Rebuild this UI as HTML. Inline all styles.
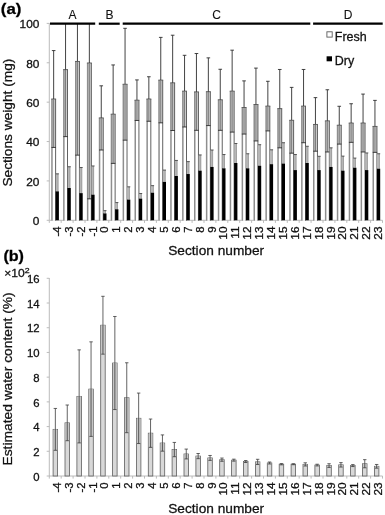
<!DOCTYPE html>
<html><head><meta charset="utf-8"><title>Figure</title>
<style>html,body{margin:0;padding:0;background:#fff}svg{display:block}</style>
</head><body>
<svg width="385" height="515" viewBox="0 0 385 515" font-family="'Liberation Sans', Arial, Helvetica, sans-serif" fill="#111">
<style>text{stroke:#111;stroke-width:0.28px;paint-order:stroke}</style>
<rect width="385" height="515" fill="#fff"/>
<g stroke="#b4b4b4" stroke-width="0.9" fill="none">
<path d="M49.3 23.099999999999998V220.3H382.5"/>
<path d="M46.699999999999996 220.30H49.3M46.699999999999996 180.92H49.3M46.699999999999996 141.54H49.3M46.699999999999996 102.16H49.3M46.699999999999996 62.78H49.3M46.699999999999996 23.40H49.3M49.30 220.3V222.9M61.20 220.3V222.9M73.10 220.3V222.9M85.00 220.3V222.9M96.90 220.3V222.9M108.80 220.3V222.9M120.70 220.3V222.9M132.60 220.3V222.9M144.50 220.3V222.9M156.40 220.3V222.9M168.30 220.3V222.9M180.20 220.3V222.9M192.10 220.3V222.9M204.00 220.3V222.9M215.90 220.3V222.9M227.80 220.3V222.9M239.70 220.3V222.9M251.60 220.3V222.9M263.50 220.3V222.9M275.40 220.3V222.9M287.30 220.3V222.9M299.20 220.3V222.9M311.10 220.3V222.9M323.00 220.3V222.9M334.90 220.3V222.9M346.80 220.3V222.9M358.70 220.3V222.9M370.60 220.3V222.9M382.50 220.3V222.9"/>
</g>
<clipPath id="ca"><rect x="40" y="23.4" width="345" height="197.35"/></clipPath>
<g clip-path="url(#ca)">
<rect x="51.20" y="99.01" width="4.90" height="123.29" fill="#fff"/>
<rect x="51.50" y="99.01" width="4.30" height="48.44" fill="#cfcfcf"/>
<rect x="51.20" y="99.01" width="1.5" height="123.29" fill="#8e8e8e"/>
<rect x="55.15" y="99.01" width="0.95" height="123.29" fill="#5a5a5a"/>
<rect x="51.20" y="98.56" width="4.90" height="0.9" fill="#555"/>
<path d="M53.65 99.01V147.45" stroke="#7a7a7a" stroke-width="1" fill="none"/>
<path d="M53.65 50.57V99.01M51.85 50.57h3.6M51.40 147.45H55.90" stroke="#2e2e2e" stroke-width="0.9" fill="none"/>
<rect x="55.90" y="173.83" width="2.40" height="17.52" fill="#b6b6b6"/>
<rect x="57.80" y="173.83" width="0.6" height="17.52" fill="#8c8c8c"/>
<path d="M55.90 173.83H58.90" stroke="#333" stroke-width="0.8" fill="none"/>
<rect x="55.60" y="191.36" width="3.30" height="28.94" fill="#000"/>
<rect x="63.10" y="69.67" width="4.90" height="152.63" fill="#fff"/>
<rect x="63.40" y="69.67" width="4.30" height="66.95" fill="#cfcfcf"/>
<rect x="63.10" y="69.67" width="1.5" height="152.63" fill="#8e8e8e"/>
<rect x="67.05" y="69.67" width="0.95" height="152.63" fill="#5a5a5a"/>
<rect x="63.10" y="69.22" width="4.90" height="0.9" fill="#555"/>
<path d="M65.55 69.67V136.62" stroke="#7a7a7a" stroke-width="1" fill="none"/>
<path d="M65.55 2.73V69.67M63.75 2.73h3.6M63.30 136.62H67.80" stroke="#2e2e2e" stroke-width="0.9" fill="none"/>
<rect x="67.80" y="166.74" width="2.40" height="21.27" fill="#b6b6b6"/>
<rect x="69.70" y="166.74" width="0.6" height="21.27" fill="#8c8c8c"/>
<path d="M67.80 166.74H70.80" stroke="#333" stroke-width="0.8" fill="none"/>
<rect x="67.50" y="188.01" width="3.30" height="32.29" fill="#000"/>
<rect x="75.00" y="61.40" width="4.90" height="160.90" fill="#fff"/>
<rect x="75.30" y="61.40" width="4.30" height="93.72" fill="#cfcfcf"/>
<rect x="75.00" y="61.40" width="1.5" height="160.90" fill="#8e8e8e"/>
<rect x="78.95" y="61.40" width="0.95" height="160.90" fill="#5a5a5a"/>
<rect x="75.00" y="60.95" width="4.90" height="0.9" fill="#555"/>
<path d="M77.45 61.40V155.13" stroke="#7a7a7a" stroke-width="1" fill="none"/>
<path d="M77.45 -32.32V61.40M75.65 -32.32h3.6M75.20 155.13H79.70" stroke="#2e2e2e" stroke-width="0.9" fill="none"/>
<rect x="79.70" y="167.53" width="2.40" height="25.60" fill="#b6b6b6"/>
<rect x="81.60" y="167.53" width="0.6" height="25.60" fill="#8c8c8c"/>
<path d="M79.70 167.53H82.70" stroke="#333" stroke-width="0.8" fill="none"/>
<rect x="79.40" y="193.13" width="3.30" height="27.17" fill="#000"/>
<rect x="86.90" y="62.98" width="4.90" height="159.32" fill="#fff"/>
<rect x="87.20" y="62.98" width="4.30" height="135.86" fill="#cfcfcf"/>
<rect x="86.90" y="62.98" width="1.5" height="159.32" fill="#8e8e8e"/>
<rect x="90.85" y="62.98" width="0.95" height="159.32" fill="#5a5a5a"/>
<rect x="86.90" y="62.53" width="4.90" height="0.9" fill="#555"/>
<path d="M89.35 62.98V198.84" stroke="#7a7a7a" stroke-width="1" fill="none"/>
<path d="M89.35 -72.88V62.98M87.55 -72.88h3.6M87.10 198.84H91.60" stroke="#2e2e2e" stroke-width="0.9" fill="none"/>
<rect x="91.60" y="165.96" width="2.40" height="28.75" fill="#b6b6b6"/>
<rect x="93.50" y="165.96" width="0.6" height="28.75" fill="#8c8c8c"/>
<path d="M91.60 165.96H94.60" stroke="#333" stroke-width="0.8" fill="none"/>
<rect x="91.30" y="194.70" width="3.30" height="25.60" fill="#000"/>
<rect x="98.80" y="117.91" width="4.90" height="104.39" fill="#fff"/>
<rect x="99.10" y="117.91" width="4.30" height="32.09" fill="#cfcfcf"/>
<rect x="98.80" y="117.91" width="1.5" height="104.39" fill="#8e8e8e"/>
<rect x="102.75" y="117.91" width="0.95" height="104.39" fill="#5a5a5a"/>
<rect x="98.80" y="117.46" width="4.90" height="0.9" fill="#555"/>
<path d="M101.25 117.91V150.01" stroke="#7a7a7a" stroke-width="1" fill="none"/>
<path d="M101.25 85.82V117.91M99.45 85.82h3.6M99.00 150.01H103.50" stroke="#2e2e2e" stroke-width="0.9" fill="none"/>
<rect x="103.50" y="210.65" width="2.40" height="2.76" fill="#b6b6b6"/>
<rect x="105.40" y="210.65" width="0.6" height="2.76" fill="#8c8c8c"/>
<path d="M103.50 210.65H106.50" stroke="#333" stroke-width="0.8" fill="none"/>
<rect x="103.20" y="213.41" width="3.30" height="6.89" fill="#000"/>
<rect x="110.70" y="114.17" width="4.90" height="108.13" fill="#fff"/>
<rect x="111.00" y="114.17" width="4.30" height="49.22" fill="#cfcfcf"/>
<rect x="110.70" y="114.17" width="1.5" height="108.13" fill="#8e8e8e"/>
<rect x="114.65" y="114.17" width="0.95" height="108.13" fill="#5a5a5a"/>
<rect x="110.70" y="113.72" width="4.90" height="0.9" fill="#555"/>
<path d="M113.15 114.17V163.40" stroke="#7a7a7a" stroke-width="1" fill="none"/>
<path d="M113.15 64.95V114.17M111.35 64.95h3.6M110.90 163.40H115.40" stroke="#2e2e2e" stroke-width="0.9" fill="none"/>
<rect x="115.40" y="202.58" width="2.40" height="6.69" fill="#b6b6b6"/>
<rect x="117.30" y="202.58" width="0.6" height="6.69" fill="#8c8c8c"/>
<path d="M115.40 202.58H118.40" stroke="#333" stroke-width="0.8" fill="none"/>
<rect x="115.10" y="209.27" width="3.30" height="11.03" fill="#000"/>
<rect x="122.60" y="84.24" width="4.90" height="138.06" fill="#fff"/>
<rect x="122.90" y="84.24" width="4.30" height="55.92" fill="#cfcfcf"/>
<rect x="122.60" y="84.24" width="1.5" height="138.06" fill="#8e8e8e"/>
<rect x="126.55" y="84.24" width="0.95" height="138.06" fill="#5a5a5a"/>
<rect x="122.60" y="83.79" width="4.90" height="0.9" fill="#555"/>
<path d="M125.05 84.24V140.16" stroke="#7a7a7a" stroke-width="1" fill="none"/>
<path d="M125.05 28.32V84.24M123.25 28.32h3.6M122.80 140.16H127.30" stroke="#2e2e2e" stroke-width="0.9" fill="none"/>
<rect x="127.30" y="186.83" width="2.40" height="12.80" fill="#b6b6b6"/>
<rect x="129.20" y="186.83" width="0.6" height="12.80" fill="#8c8c8c"/>
<path d="M127.30 186.83H130.30" stroke="#333" stroke-width="0.8" fill="none"/>
<rect x="127.00" y="199.63" width="3.30" height="20.67" fill="#000"/>
<rect x="134.50" y="100.19" width="4.90" height="122.11" fill="#fff"/>
<rect x="134.80" y="100.19" width="4.30" height="20.28" fill="#cfcfcf"/>
<rect x="134.50" y="100.19" width="1.5" height="122.11" fill="#8e8e8e"/>
<rect x="138.45" y="100.19" width="0.95" height="122.11" fill="#5a5a5a"/>
<rect x="134.50" y="99.74" width="4.90" height="0.9" fill="#555"/>
<path d="M136.95 100.19V120.47" stroke="#7a7a7a" stroke-width="1" fill="none"/>
<path d="M136.95 79.91V100.19M135.15 79.91h3.6M134.70 120.47H139.20" stroke="#2e2e2e" stroke-width="0.9" fill="none"/>
<rect x="139.20" y="193.52" width="2.40" height="5.12" fill="#b6b6b6"/>
<rect x="141.10" y="193.52" width="0.6" height="5.12" fill="#8c8c8c"/>
<path d="M139.20 193.52H142.20" stroke="#333" stroke-width="0.8" fill="none"/>
<rect x="138.90" y="198.64" width="3.30" height="21.66" fill="#000"/>
<rect x="146.40" y="99.01" width="4.90" height="123.29" fill="#fff"/>
<rect x="146.70" y="99.01" width="4.30" height="22.25" fill="#cfcfcf"/>
<rect x="146.40" y="99.01" width="1.5" height="123.29" fill="#8e8e8e"/>
<rect x="150.35" y="99.01" width="0.95" height="123.29" fill="#5a5a5a"/>
<rect x="146.40" y="98.56" width="4.90" height="0.9" fill="#555"/>
<path d="M148.85 99.01V121.26" stroke="#7a7a7a" stroke-width="1" fill="none"/>
<path d="M148.85 76.76V99.01M147.05 76.76h3.6M146.60 121.26H151.10" stroke="#2e2e2e" stroke-width="0.9" fill="none"/>
<rect x="151.10" y="185.65" width="2.40" height="7.09" fill="#b6b6b6"/>
<rect x="153.00" y="185.65" width="0.6" height="7.09" fill="#8c8c8c"/>
<path d="M151.10 185.65H154.10" stroke="#333" stroke-width="0.8" fill="none"/>
<rect x="150.80" y="192.73" width="3.30" height="27.57" fill="#000"/>
<rect x="158.30" y="80.11" width="4.90" height="142.19" fill="#fff"/>
<rect x="158.60" y="80.11" width="4.30" height="42.73" fill="#cfcfcf"/>
<rect x="158.30" y="80.11" width="1.5" height="142.19" fill="#8e8e8e"/>
<rect x="162.25" y="80.11" width="0.95" height="142.19" fill="#5a5a5a"/>
<rect x="158.30" y="79.66" width="4.90" height="0.9" fill="#555"/>
<path d="M160.75 80.11V122.83" stroke="#7a7a7a" stroke-width="1" fill="none"/>
<path d="M160.75 37.38V80.11M158.95 37.38h3.6M158.50 122.83H163.00" stroke="#2e2e2e" stroke-width="0.9" fill="none"/>
<rect x="163.00" y="170.09" width="2.40" height="11.81" fill="#b6b6b6"/>
<rect x="164.90" y="170.09" width="0.6" height="11.81" fill="#8c8c8c"/>
<path d="M163.00 170.09H166.00" stroke="#333" stroke-width="0.8" fill="none"/>
<rect x="162.70" y="181.90" width="3.30" height="38.40" fill="#000"/>
<rect x="170.20" y="82.86" width="4.90" height="139.44" fill="#fff"/>
<rect x="170.50" y="82.86" width="4.30" height="47.65" fill="#cfcfcf"/>
<rect x="170.20" y="82.86" width="1.5" height="139.44" fill="#8e8e8e"/>
<rect x="174.15" y="82.86" width="0.95" height="139.44" fill="#5a5a5a"/>
<rect x="170.20" y="82.41" width="4.90" height="0.9" fill="#555"/>
<path d="M172.65 82.86V130.51" stroke="#7a7a7a" stroke-width="1" fill="none"/>
<path d="M172.65 35.21V82.86M170.85 35.21h3.6M170.40 130.51H174.90" stroke="#2e2e2e" stroke-width="0.9" fill="none"/>
<rect x="174.90" y="160.44" width="2.40" height="15.56" fill="#b6b6b6"/>
<rect x="176.80" y="160.44" width="0.6" height="15.56" fill="#8c8c8c"/>
<path d="M174.90 160.44H177.90" stroke="#333" stroke-width="0.8" fill="none"/>
<rect x="174.60" y="176.00" width="3.30" height="44.30" fill="#000"/>
<rect x="182.10" y="91.13" width="4.90" height="131.17" fill="#fff"/>
<rect x="182.40" y="91.13" width="4.30" height="35.84" fill="#cfcfcf"/>
<rect x="182.10" y="91.13" width="1.5" height="131.17" fill="#8e8e8e"/>
<rect x="186.05" y="91.13" width="0.95" height="131.17" fill="#5a5a5a"/>
<rect x="182.10" y="90.68" width="4.90" height="0.9" fill="#555"/>
<path d="M184.55 91.13V126.97" stroke="#7a7a7a" stroke-width="1" fill="none"/>
<path d="M184.55 55.30V91.13M182.75 55.30h3.6M182.30 126.97H186.80" stroke="#2e2e2e" stroke-width="0.9" fill="none"/>
<rect x="186.80" y="161.62" width="2.40" height="12.40" fill="#b6b6b6"/>
<rect x="188.70" y="161.62" width="0.6" height="12.40" fill="#8c8c8c"/>
<path d="M186.80 161.62H189.80" stroke="#333" stroke-width="0.8" fill="none"/>
<rect x="186.50" y="174.03" width="3.30" height="46.27" fill="#000"/>
<rect x="194.00" y="91.92" width="4.90" height="130.38" fill="#fff"/>
<rect x="194.30" y="91.92" width="4.30" height="38.40" fill="#cfcfcf"/>
<rect x="194.00" y="91.92" width="1.5" height="130.38" fill="#8e8e8e"/>
<rect x="197.95" y="91.92" width="0.95" height="130.38" fill="#5a5a5a"/>
<rect x="194.00" y="91.47" width="4.90" height="0.9" fill="#555"/>
<path d="M196.45 91.92V130.32" stroke="#7a7a7a" stroke-width="1" fill="none"/>
<path d="M196.45 53.53V91.92M194.65 53.53h3.6M194.20 130.32H198.70" stroke="#2e2e2e" stroke-width="0.9" fill="none"/>
<rect x="198.70" y="154.93" width="2.40" height="15.75" fill="#b6b6b6"/>
<rect x="200.60" y="154.93" width="0.6" height="15.75" fill="#8c8c8c"/>
<path d="M198.70 154.93H201.70" stroke="#333" stroke-width="0.8" fill="none"/>
<rect x="198.40" y="170.68" width="3.30" height="49.62" fill="#000"/>
<rect x="205.90" y="91.72" width="4.90" height="130.58" fill="#fff"/>
<rect x="206.20" y="91.72" width="4.30" height="33.87" fill="#cfcfcf"/>
<rect x="205.90" y="91.72" width="1.5" height="130.58" fill="#8e8e8e"/>
<rect x="209.85" y="91.72" width="0.95" height="130.58" fill="#5a5a5a"/>
<rect x="205.90" y="91.27" width="4.90" height="0.9" fill="#555"/>
<path d="M208.35 91.72V125.59" stroke="#7a7a7a" stroke-width="1" fill="none"/>
<path d="M208.35 57.86V91.72M206.55 57.86h3.6M206.10 125.59H210.60" stroke="#2e2e2e" stroke-width="0.9" fill="none"/>
<rect x="210.60" y="150.01" width="2.40" height="16.93" fill="#b6b6b6"/>
<rect x="212.50" y="150.01" width="0.6" height="16.93" fill="#8c8c8c"/>
<path d="M210.60 150.01H213.60" stroke="#333" stroke-width="0.8" fill="none"/>
<rect x="210.30" y="166.94" width="3.30" height="53.36" fill="#000"/>
<rect x="217.80" y="99.80" width="4.90" height="122.50" fill="#fff"/>
<rect x="218.10" y="99.80" width="4.30" height="30.52" fill="#cfcfcf"/>
<rect x="217.80" y="99.80" width="1.5" height="122.50" fill="#8e8e8e"/>
<rect x="221.75" y="99.80" width="0.95" height="122.50" fill="#5a5a5a"/>
<rect x="217.80" y="99.35" width="4.90" height="0.9" fill="#555"/>
<path d="M220.25 99.80V130.32" stroke="#7a7a7a" stroke-width="1" fill="none"/>
<path d="M220.25 69.28V99.80M218.45 69.28h3.6M218.00 130.32H222.50" stroke="#2e2e2e" stroke-width="0.9" fill="none"/>
<rect x="222.50" y="154.54" width="2.40" height="13.78" fill="#b6b6b6"/>
<rect x="224.40" y="154.54" width="0.6" height="13.78" fill="#8c8c8c"/>
<path d="M222.50 154.54H225.50" stroke="#333" stroke-width="0.8" fill="none"/>
<rect x="222.20" y="168.32" width="3.30" height="51.98" fill="#000"/>
<rect x="229.70" y="91.13" width="4.90" height="131.17" fill="#fff"/>
<rect x="230.00" y="91.13" width="4.30" height="40.96" fill="#cfcfcf"/>
<rect x="229.70" y="91.13" width="1.5" height="131.17" fill="#8e8e8e"/>
<rect x="233.65" y="91.13" width="0.95" height="131.17" fill="#5a5a5a"/>
<rect x="229.70" y="90.68" width="4.90" height="0.9" fill="#555"/>
<path d="M232.15 91.13V132.09" stroke="#7a7a7a" stroke-width="1" fill="none"/>
<path d="M232.15 50.18V91.13M230.35 50.18h3.6M229.90 132.09H234.40" stroke="#2e2e2e" stroke-width="0.9" fill="none"/>
<rect x="234.40" y="143.51" width="2.40" height="19.49" fill="#b6b6b6"/>
<rect x="236.30" y="143.51" width="0.6" height="19.49" fill="#8c8c8c"/>
<path d="M234.40 143.51H237.40" stroke="#333" stroke-width="0.8" fill="none"/>
<rect x="234.10" y="163.00" width="3.30" height="57.30" fill="#000"/>
<rect x="241.60" y="107.48" width="4.90" height="114.82" fill="#fff"/>
<rect x="241.90" y="107.48" width="4.30" height="26.58" fill="#cfcfcf"/>
<rect x="241.60" y="107.48" width="1.5" height="114.82" fill="#8e8e8e"/>
<rect x="245.55" y="107.48" width="0.95" height="114.82" fill="#5a5a5a"/>
<rect x="241.60" y="107.03" width="4.90" height="0.9" fill="#555"/>
<path d="M244.05 107.48V134.06" stroke="#7a7a7a" stroke-width="1" fill="none"/>
<path d="M244.05 80.89V107.48M242.25 80.89h3.6M241.80 134.06H246.30" stroke="#2e2e2e" stroke-width="0.9" fill="none"/>
<rect x="246.30" y="153.75" width="2.40" height="14.57" fill="#b6b6b6"/>
<rect x="248.20" y="153.75" width="0.6" height="14.57" fill="#8c8c8c"/>
<path d="M246.30 153.75H249.30" stroke="#333" stroke-width="0.8" fill="none"/>
<rect x="246.00" y="168.32" width="3.30" height="51.98" fill="#000"/>
<rect x="253.50" y="104.52" width="4.90" height="117.78" fill="#fff"/>
<rect x="253.80" y="104.52" width="4.30" height="36.43" fill="#cfcfcf"/>
<rect x="253.50" y="104.52" width="1.5" height="117.78" fill="#8e8e8e"/>
<rect x="257.45" y="104.52" width="0.95" height="117.78" fill="#5a5a5a"/>
<rect x="253.50" y="104.07" width="4.90" height="0.9" fill="#555"/>
<path d="M255.95 104.52V140.95" stroke="#7a7a7a" stroke-width="1" fill="none"/>
<path d="M255.95 68.10V104.52M254.15 68.10h3.6M253.70 140.95H258.20" stroke="#2e2e2e" stroke-width="0.9" fill="none"/>
<rect x="258.20" y="144.69" width="2.40" height="21.07" fill="#b6b6b6"/>
<rect x="260.10" y="144.69" width="0.6" height="21.07" fill="#8c8c8c"/>
<path d="M258.20 144.69H261.20" stroke="#333" stroke-width="0.8" fill="none"/>
<rect x="257.90" y="165.76" width="3.30" height="54.54" fill="#000"/>
<rect x="265.40" y="106.10" width="4.90" height="116.20" fill="#fff"/>
<rect x="265.70" y="106.10" width="4.30" height="24.81" fill="#cfcfcf"/>
<rect x="265.40" y="106.10" width="1.5" height="116.20" fill="#8e8e8e"/>
<rect x="269.35" y="106.10" width="0.95" height="116.20" fill="#5a5a5a"/>
<rect x="265.40" y="105.65" width="4.90" height="0.9" fill="#555"/>
<path d="M267.85 106.10V130.91" stroke="#7a7a7a" stroke-width="1" fill="none"/>
<path d="M267.85 81.29V106.10M266.05 81.29h3.6M265.60 130.91H270.10" stroke="#2e2e2e" stroke-width="0.9" fill="none"/>
<rect x="270.10" y="149.81" width="2.40" height="14.37" fill="#b6b6b6"/>
<rect x="272.00" y="149.81" width="0.6" height="14.37" fill="#8c8c8c"/>
<path d="M270.10 149.81H273.10" stroke="#333" stroke-width="0.8" fill="none"/>
<rect x="269.80" y="164.18" width="3.30" height="56.12" fill="#000"/>
<rect x="277.30" y="108.66" width="4.90" height="113.64" fill="#fff"/>
<rect x="277.60" y="108.66" width="4.30" height="39.18" fill="#cfcfcf"/>
<rect x="277.30" y="108.66" width="1.5" height="113.64" fill="#8e8e8e"/>
<rect x="281.25" y="108.66" width="0.95" height="113.64" fill="#5a5a5a"/>
<rect x="277.30" y="108.21" width="4.90" height="0.9" fill="#555"/>
<path d="M279.75 108.66V147.84" stroke="#7a7a7a" stroke-width="1" fill="none"/>
<path d="M279.75 69.47V108.66M277.95 69.47h3.6M277.50 147.84H282.00" stroke="#2e2e2e" stroke-width="0.9" fill="none"/>
<rect x="282.00" y="142.72" width="2.40" height="20.87" fill="#b6b6b6"/>
<rect x="283.90" y="142.72" width="0.6" height="20.87" fill="#8c8c8c"/>
<path d="M282.00 142.72H285.00" stroke="#333" stroke-width="0.8" fill="none"/>
<rect x="281.70" y="163.59" width="3.30" height="56.71" fill="#000"/>
<rect x="289.20" y="120.27" width="4.90" height="102.03" fill="#fff"/>
<rect x="289.50" y="120.27" width="4.30" height="32.88" fill="#cfcfcf"/>
<rect x="289.20" y="120.27" width="1.5" height="102.03" fill="#8e8e8e"/>
<rect x="293.15" y="120.27" width="0.95" height="102.03" fill="#5a5a5a"/>
<rect x="289.20" y="119.82" width="4.90" height="0.9" fill="#555"/>
<path d="M291.65 120.27V153.16" stroke="#7a7a7a" stroke-width="1" fill="none"/>
<path d="M291.65 87.39V120.27M289.85 87.39h3.6M289.40 153.16H293.90" stroke="#2e2e2e" stroke-width="0.9" fill="none"/>
<rect x="293.90" y="154.54" width="2.40" height="15.56" fill="#b6b6b6"/>
<rect x="295.80" y="154.54" width="0.6" height="15.56" fill="#8c8c8c"/>
<path d="M293.90 154.54H296.90" stroke="#333" stroke-width="0.8" fill="none"/>
<rect x="293.60" y="170.09" width="3.30" height="50.21" fill="#000"/>
<rect x="301.10" y="106.10" width="4.90" height="116.20" fill="#fff"/>
<rect x="301.40" y="106.10" width="4.30" height="36.62" fill="#cfcfcf"/>
<rect x="301.10" y="106.10" width="1.5" height="116.20" fill="#8e8e8e"/>
<rect x="305.05" y="106.10" width="0.95" height="116.20" fill="#5a5a5a"/>
<rect x="301.10" y="105.65" width="4.90" height="0.9" fill="#555"/>
<path d="M303.55 106.10V142.72" stroke="#7a7a7a" stroke-width="1" fill="none"/>
<path d="M303.55 69.47V106.10M301.75 69.47h3.6M301.30 142.72H305.80" stroke="#2e2e2e" stroke-width="0.9" fill="none"/>
<rect x="305.80" y="146.27" width="2.40" height="16.74" fill="#b6b6b6"/>
<rect x="307.70" y="146.27" width="0.6" height="16.74" fill="#8c8c8c"/>
<path d="M305.80 146.27H308.80" stroke="#333" stroke-width="0.8" fill="none"/>
<rect x="305.50" y="163.00" width="3.30" height="57.30" fill="#000"/>
<rect x="313.00" y="124.41" width="4.90" height="97.89" fill="#fff"/>
<rect x="313.30" y="124.41" width="4.30" height="26.78" fill="#cfcfcf"/>
<rect x="313.00" y="124.41" width="1.5" height="97.89" fill="#8e8e8e"/>
<rect x="316.95" y="124.41" width="0.95" height="97.89" fill="#5a5a5a"/>
<rect x="313.00" y="123.96" width="4.90" height="0.9" fill="#555"/>
<path d="M315.45 124.41V151.19" stroke="#7a7a7a" stroke-width="1" fill="none"/>
<path d="M315.45 97.63V124.41M313.65 97.63h3.6M313.20 151.19H317.70" stroke="#2e2e2e" stroke-width="0.9" fill="none"/>
<rect x="317.70" y="156.31" width="2.40" height="13.78" fill="#b6b6b6"/>
<rect x="319.60" y="156.31" width="0.6" height="13.78" fill="#8c8c8c"/>
<path d="M317.70 156.31H320.70" stroke="#333" stroke-width="0.8" fill="none"/>
<rect x="317.40" y="170.09" width="3.30" height="50.21" fill="#000"/>
<rect x="324.90" y="120.87" width="4.90" height="101.43" fill="#fff"/>
<rect x="325.20" y="120.87" width="4.30" height="31.11" fill="#cfcfcf"/>
<rect x="324.90" y="120.87" width="1.5" height="101.43" fill="#8e8e8e"/>
<rect x="328.85" y="120.87" width="0.95" height="101.43" fill="#5a5a5a"/>
<rect x="324.90" y="120.42" width="4.90" height="0.9" fill="#555"/>
<path d="M327.35 120.87V151.98" stroke="#7a7a7a" stroke-width="1" fill="none"/>
<path d="M327.35 89.76V120.87M325.55 89.76h3.6M325.10 151.98H329.60" stroke="#2e2e2e" stroke-width="0.9" fill="none"/>
<rect x="329.60" y="147.84" width="2.40" height="19.10" fill="#b6b6b6"/>
<rect x="331.50" y="147.84" width="0.6" height="19.10" fill="#8c8c8c"/>
<path d="M329.60 147.84H332.60" stroke="#333" stroke-width="0.8" fill="none"/>
<rect x="329.30" y="166.94" width="3.30" height="53.36" fill="#000"/>
<rect x="336.80" y="125.20" width="4.90" height="97.10" fill="#fff"/>
<rect x="337.10" y="125.20" width="4.30" height="18.90" fill="#cfcfcf"/>
<rect x="336.80" y="125.20" width="1.5" height="97.10" fill="#8e8e8e"/>
<rect x="340.75" y="125.20" width="0.95" height="97.10" fill="#5a5a5a"/>
<rect x="336.80" y="124.75" width="4.90" height="0.9" fill="#555"/>
<path d="M339.25 125.20V144.10" stroke="#7a7a7a" stroke-width="1" fill="none"/>
<path d="M339.25 106.29V125.20M337.45 106.29h3.6M337.00 144.10H341.50" stroke="#2e2e2e" stroke-width="0.9" fill="none"/>
<rect x="341.50" y="156.11" width="2.40" height="14.57" fill="#b6b6b6"/>
<rect x="343.40" y="156.11" width="0.6" height="14.57" fill="#8c8c8c"/>
<path d="M341.50 156.11H344.50" stroke="#333" stroke-width="0.8" fill="none"/>
<rect x="341.20" y="170.68" width="3.30" height="49.62" fill="#000"/>
<rect x="348.70" y="123.03" width="4.90" height="99.27" fill="#fff"/>
<rect x="349.00" y="123.03" width="4.30" height="19.30" fill="#cfcfcf"/>
<rect x="348.70" y="123.03" width="1.5" height="99.27" fill="#8e8e8e"/>
<rect x="352.65" y="123.03" width="0.95" height="99.27" fill="#5a5a5a"/>
<rect x="348.70" y="122.58" width="4.90" height="0.9" fill="#555"/>
<path d="M351.15 123.03V142.33" stroke="#7a7a7a" stroke-width="1" fill="none"/>
<path d="M351.15 103.74V123.03M349.35 103.74h3.6M348.90 142.33H353.40" stroke="#2e2e2e" stroke-width="0.9" fill="none"/>
<rect x="353.40" y="158.08" width="2.40" height="9.65" fill="#b6b6b6"/>
<rect x="355.30" y="158.08" width="0.6" height="9.65" fill="#8c8c8c"/>
<path d="M353.40 158.08H356.40" stroke="#333" stroke-width="0.8" fill="none"/>
<rect x="353.10" y="167.73" width="3.30" height="52.57" fill="#000"/>
<rect x="360.60" y="123.03" width="4.90" height="99.27" fill="#fff"/>
<rect x="360.90" y="123.03" width="4.30" height="28.94" fill="#cfcfcf"/>
<rect x="360.60" y="123.03" width="1.5" height="99.27" fill="#8e8e8e"/>
<rect x="364.55" y="123.03" width="0.95" height="99.27" fill="#5a5a5a"/>
<rect x="360.60" y="122.58" width="4.90" height="0.9" fill="#555"/>
<path d="M363.05 123.03V151.98" stroke="#7a7a7a" stroke-width="1" fill="none"/>
<path d="M363.05 94.09V123.03M361.25 94.09h3.6M360.80 151.98H365.30" stroke="#2e2e2e" stroke-width="0.9" fill="none"/>
<rect x="365.30" y="152.96" width="2.40" height="17.13" fill="#b6b6b6"/>
<rect x="367.20" y="152.96" width="0.6" height="17.13" fill="#8c8c8c"/>
<path d="M365.30 152.96H368.30" stroke="#333" stroke-width="0.8" fill="none"/>
<rect x="365.00" y="170.09" width="3.30" height="50.21" fill="#000"/>
<rect x="372.50" y="126.38" width="4.90" height="95.92" fill="#fff"/>
<rect x="372.80" y="126.38" width="4.30" height="25.99" fill="#cfcfcf"/>
<rect x="372.50" y="126.38" width="1.5" height="95.92" fill="#8e8e8e"/>
<rect x="376.45" y="126.38" width="0.95" height="95.92" fill="#5a5a5a"/>
<rect x="372.50" y="125.93" width="4.90" height="0.9" fill="#555"/>
<path d="M374.95 126.38V152.37" stroke="#7a7a7a" stroke-width="1" fill="none"/>
<path d="M374.95 100.39V126.38M373.15 100.39h3.6M372.70 152.37H377.20" stroke="#2e2e2e" stroke-width="0.9" fill="none"/>
<rect x="377.20" y="153.75" width="2.40" height="14.96" fill="#b6b6b6"/>
<rect x="379.10" y="153.75" width="0.6" height="14.96" fill="#8c8c8c"/>
<path d="M377.20 153.75H380.20" stroke="#333" stroke-width="0.8" fill="none"/>
<rect x="376.90" y="168.71" width="3.30" height="51.59" fill="#000"/>
</g>
<g stroke="#000" stroke-width="2.2">
<path d="M50 23.7H95.2"/>
<path d="M98.8 23.7H119.7"/>
<path d="M122.7 23.7H310.3"/>
<path d="M313.1 23.7H382.7"/>
</g>
<g font-size="12" text-anchor="middle" style="stroke-width:0.1px">
<text x="72.5" y="19.2" style="stroke-width:0.1px">A</text>
<text x="109.4" y="19.2" style="stroke-width:0.1px">B</text>
<text x="216.5" y="19.2" style="stroke-width:0.1px">C</text>
<text x="348" y="19.2" style="stroke-width:0.1px">D</text>
</g>
<g font-size="11" text-anchor="end">
<text transform="translate(39.4 225.05) scale(1.08 1)">0</text>
<text transform="translate(39.4 185.67) scale(1.08 1)">20</text>
<text transform="translate(39.4 146.29) scale(1.08 1)">40</text>
<text transform="translate(39.4 106.91) scale(1.08 1)">60</text>
<text transform="translate(39.4 67.53) scale(1.08 1)">80</text>
<text transform="translate(39.4 28.15) scale(1.08 1)">100</text>
<text transform="translate(39.5 480.65) scale(1.03 1)">0</text>
<text transform="translate(39.5 455.94) scale(1.03 1)">2</text>
<text transform="translate(39.5 431.22) scale(1.03 1)">4</text>
<text transform="translate(39.5 406.51) scale(1.03 1)">6</text>
<text transform="translate(39.5 381.80) scale(1.03 1)">8</text>
<text transform="translate(39.5 357.09) scale(1.03 1)">10</text>
<text transform="translate(39.5 332.38) scale(1.03 1)">12</text>
<text transform="translate(39.5 307.66) scale(1.03 1)">14</text>
<text transform="translate(39.5 282.95) scale(1.03 1)">16</text>
</g>
<g font-size="11" text-anchor="end">
<text transform="translate(60.80 226.5) rotate(-90) scale(1.03 1)">-4</text>
<text transform="translate(72.70 226.5) rotate(-90) scale(1.03 1)">-3</text>
<text transform="translate(84.60 226.5) rotate(-90) scale(1.03 1)">-2</text>
<text transform="translate(96.50 226.5) rotate(-90) scale(1.03 1)">-1</text>
<text transform="translate(108.40 226.5) rotate(-90) scale(1.03 1)">0</text>
<text transform="translate(120.30 226.5) rotate(-90) scale(1.03 1)">1</text>
<text transform="translate(132.20 226.5) rotate(-90) scale(1.03 1)">2</text>
<text transform="translate(144.10 226.5) rotate(-90) scale(1.03 1)">3</text>
<text transform="translate(156.00 226.5) rotate(-90) scale(1.03 1)">4</text>
<text transform="translate(167.90 226.5) rotate(-90) scale(1.03 1)">5</text>
<text transform="translate(179.80 226.5) rotate(-90) scale(1.03 1)">6</text>
<text transform="translate(191.70 226.5) rotate(-90) scale(1.03 1)">7</text>
<text transform="translate(203.60 226.5) rotate(-90) scale(1.03 1)">8</text>
<text transform="translate(215.50 226.5) rotate(-90) scale(1.03 1)">9</text>
<text transform="translate(227.40 226.5) rotate(-90) scale(1.08 1)">10</text>
<text transform="translate(239.30 226.5) rotate(-90) scale(1.08 1)">11</text>
<text transform="translate(251.20 226.5) rotate(-90) scale(1.08 1)">12</text>
<text transform="translate(263.10 226.5) rotate(-90) scale(1.08 1)">13</text>
<text transform="translate(275.00 226.5) rotate(-90) scale(1.08 1)">14</text>
<text transform="translate(286.90 226.5) rotate(-90) scale(1.08 1)">15</text>
<text transform="translate(298.80 226.5) rotate(-90) scale(1.08 1)">16</text>
<text transform="translate(310.70 226.5) rotate(-90) scale(1.08 1)">17</text>
<text transform="translate(322.60 226.5) rotate(-90) scale(1.08 1)">18</text>
<text transform="translate(334.50 226.5) rotate(-90) scale(1.08 1)">19</text>
<text transform="translate(346.40 226.5) rotate(-90) scale(1.08 1)">20</text>
<text transform="translate(358.30 226.5) rotate(-90) scale(1.08 1)">21</text>
<text transform="translate(370.20 226.5) rotate(-90) scale(1.08 1)">22</text>
<text transform="translate(382.10 226.5) rotate(-90) scale(1.08 1)">23</text>
</g>
<g font-size="11" text-anchor="end">
<text transform="translate(60.80 482.4) rotate(-90) scale(1.03 1)">-4</text>
<text transform="translate(72.70 482.4) rotate(-90) scale(1.03 1)">-3</text>
<text transform="translate(84.60 482.4) rotate(-90) scale(1.03 1)">-2</text>
<text transform="translate(96.50 482.4) rotate(-90) scale(1.03 1)">-1</text>
<text transform="translate(108.40 482.4) rotate(-90) scale(1.03 1)">0</text>
<text transform="translate(120.30 482.4) rotate(-90) scale(1.03 1)">1</text>
<text transform="translate(132.20 482.4) rotate(-90) scale(1.03 1)">2</text>
<text transform="translate(144.10 482.4) rotate(-90) scale(1.03 1)">3</text>
<text transform="translate(156.00 482.4) rotate(-90) scale(1.03 1)">4</text>
<text transform="translate(167.90 482.4) rotate(-90) scale(1.03 1)">5</text>
<text transform="translate(179.80 482.4) rotate(-90) scale(1.03 1)">6</text>
<text transform="translate(191.70 482.4) rotate(-90) scale(1.03 1)">7</text>
<text transform="translate(203.60 482.4) rotate(-90) scale(1.03 1)">8</text>
<text transform="translate(215.50 482.4) rotate(-90) scale(1.03 1)">9</text>
<text transform="translate(227.40 482.4) rotate(-90) scale(1.08 1)">10</text>
<text transform="translate(239.30 482.4) rotate(-90) scale(1.08 1)">11</text>
<text transform="translate(251.20 482.4) rotate(-90) scale(1.08 1)">12</text>
<text transform="translate(263.10 482.4) rotate(-90) scale(1.08 1)">13</text>
<text transform="translate(275.00 482.4) rotate(-90) scale(1.08 1)">14</text>
<text transform="translate(286.90 482.4) rotate(-90) scale(1.08 1)">15</text>
<text transform="translate(298.80 482.4) rotate(-90) scale(1.08 1)">16</text>
<text transform="translate(310.70 482.4) rotate(-90) scale(1.08 1)">17</text>
<text transform="translate(322.60 482.4) rotate(-90) scale(1.08 1)">18</text>
<text transform="translate(334.50 482.4) rotate(-90) scale(1.08 1)">19</text>
<text transform="translate(346.40 482.4) rotate(-90) scale(1.08 1)">20</text>
<text transform="translate(358.30 482.4) rotate(-90) scale(1.08 1)">21</text>
<text transform="translate(370.20 482.4) rotate(-90) scale(1.08 1)">22</text>
<text transform="translate(382.10 482.4) rotate(-90) scale(1.08 1)">23</text>
</g>
<g font-size="13.7">
<text x="168.2" y="255.3" textLength="96" lengthAdjust="spacingAndGlyphs">Section number</text>
<text x="168.2" y="512.9" textLength="96" lengthAdjust="spacingAndGlyphs">Section number</text>
<text transform="translate(12.3 186.6) rotate(-90)" textLength="128" lengthAdjust="spacingAndGlyphs">Sections weight (mg)</text>
<text transform="translate(12.3 465.5) rotate(-90)" textLength="173.2" lengthAdjust="spacingAndGlyphs">Estimated water content (%)</text>
</g>
<g font-size="14" font-weight="bold" fill="#000">
<text x="0.8" y="13.7" textLength="20.6" lengthAdjust="spacingAndGlyphs">(a)</text>
<text x="3.4" y="261.2" textLength="20.6" lengthAdjust="spacingAndGlyphs">(b)</text>
</g>
<text transform="translate(4.3 277.1) scale(1.1 1)" font-size="11">×10<tspan font-size="8" dy="-3.8">2</tspan></text>
<rect x="326.9" y="31.8" width="5.3" height="5.3" fill="#fff" stroke="#5a5a5a" stroke-width="0.9"/>
<rect x="326.6" y="56.3" width="5.4" height="5.0" fill="#000"/>
<g font-size="12.5"><text x="334.8" y="40.9">Fresh</text><text x="334.8" y="64.6">Dry</text></g>
<g stroke="#b4b4b4" stroke-width="0.9" fill="none">
<path d="M49.3 278.0V476.0H382.5"/>
<path d="M46.699999999999996 476.00H49.3M46.699999999999996 451.29H49.3M46.699999999999996 426.57H49.3M46.699999999999996 401.86H49.3M46.699999999999996 377.15H49.3M46.699999999999996 352.44H49.3M46.699999999999996 327.73H49.3M46.699999999999996 303.01H49.3M46.699999999999996 278.30H49.3M49.30 476.0V478.6M61.20 476.0V478.6M73.10 476.0V478.6M85.00 476.0V478.6M96.90 476.0V478.6M108.80 476.0V478.6M120.70 476.0V478.6M132.60 476.0V478.6M144.50 476.0V478.6M156.40 476.0V478.6M168.30 476.0V478.6M180.20 476.0V478.6M192.10 476.0V478.6M204.00 476.0V478.6M215.90 476.0V478.6M227.80 476.0V478.6M239.70 476.0V478.6M251.60 476.0V478.6M263.50 476.0V478.6M275.40 476.0V478.6M287.30 476.0V478.6M299.20 476.0V478.6M311.10 476.0V478.6M323.00 476.0V478.6M334.90 476.0V478.6M346.80 476.0V478.6M358.70 476.0V478.6M370.60 476.0V478.6M382.50 476.0V478.6"/>
</g>
<rect x="53.10" y="429.38" width="4.50" height="46.62" fill="#d8d8d8" stroke="#5e5e5e" stroke-width="0.8"/>
<rect x="53.50" y="429.38" width="3.70" height="20.93" fill="#c6c6c6"/>
<path d="M55.35 408.45V450.31M53.65 408.45h3.4M53.65 450.31h3.4" stroke="#3c3c3c" stroke-width="0.8" fill="none"/>
<rect x="65.00" y="422.86" width="4.50" height="53.14" fill="#d8d8d8" stroke="#5e5e5e" stroke-width="0.8"/>
<rect x="65.40" y="422.86" width="3.70" height="17.85" fill="#c6c6c6"/>
<path d="M67.25 405.01V440.71M65.55 405.01h3.4M65.55 440.71h3.4" stroke="#3c3c3c" stroke-width="0.8" fill="none"/>
<rect x="76.90" y="396.39" width="4.50" height="79.61" fill="#d8d8d8" stroke="#5e5e5e" stroke-width="0.8"/>
<rect x="77.30" y="396.39" width="3.70" height="46.53" fill="#c6c6c6"/>
<path d="M79.15 349.86V442.92M77.45 349.86h3.4M77.45 442.92h3.4" stroke="#3c3c3c" stroke-width="0.8" fill="none"/>
<rect x="88.80" y="389.13" width="4.50" height="86.87" fill="#d8d8d8" stroke="#5e5e5e" stroke-width="0.8"/>
<rect x="89.20" y="389.13" width="3.70" height="47.27" fill="#c6c6c6"/>
<path d="M91.05 341.85V436.40M89.35 341.85h3.4M89.35 436.40h3.4" stroke="#3c3c3c" stroke-width="0.8" fill="none"/>
<rect x="100.70" y="325.23" width="4.50" height="150.77" fill="#d8d8d8" stroke="#5e5e5e" stroke-width="0.8"/>
<rect x="101.10" y="325.23" width="3.70" height="28.93" fill="#c6c6c6"/>
<path d="M102.95 296.30V354.16M101.25 296.30h3.4M101.25 354.16h3.4" stroke="#3c3c3c" stroke-width="0.8" fill="none"/>
<rect x="112.60" y="363.03" width="4.50" height="112.97" fill="#d8d8d8" stroke="#5e5e5e" stroke-width="0.8"/>
<rect x="113.00" y="363.03" width="3.70" height="46.53" fill="#c6c6c6"/>
<path d="M114.85 316.49V409.56M113.15 316.49h3.4M113.15 409.56h3.4" stroke="#3c3c3c" stroke-width="0.8" fill="none"/>
<rect x="124.50" y="397.74" width="4.50" height="78.26" fill="#d8d8d8" stroke="#5e5e5e" stroke-width="0.8"/>
<rect x="124.90" y="397.74" width="3.70" height="34.96" fill="#c6c6c6"/>
<path d="M126.75 362.78V432.70M125.05 362.78h3.4M125.05 432.70h3.4" stroke="#3c3c3c" stroke-width="0.8" fill="none"/>
<rect x="136.40" y="418.30" width="4.50" height="57.70" fill="#d8d8d8" stroke="#5e5e5e" stroke-width="0.8"/>
<rect x="136.80" y="418.30" width="3.70" height="25.24" fill="#c6c6c6"/>
<path d="M138.65 393.07V443.54M136.95 393.07h3.4M136.95 443.54h3.4" stroke="#3c3c3c" stroke-width="0.8" fill="none"/>
<rect x="148.30" y="433.20" width="4.50" height="42.80" fill="#d8d8d8" stroke="#5e5e5e" stroke-width="0.8"/>
<rect x="148.70" y="433.20" width="3.70" height="14.16" fill="#c6c6c6"/>
<path d="M150.55 419.04V447.35M148.85 419.04h3.4M148.85 447.35h3.4" stroke="#3c3c3c" stroke-width="0.8" fill="none"/>
<rect x="160.20" y="443.05" width="4.50" height="32.95" fill="#d8d8d8" stroke="#5e5e5e" stroke-width="0.8"/>
<rect x="160.60" y="443.05" width="3.70" height="8.12" fill="#c6c6c6"/>
<path d="M162.45 434.92V451.17M160.75 434.92h3.4M160.75 451.17h3.4" stroke="#3c3c3c" stroke-width="0.8" fill="none"/>
<rect x="172.10" y="449.57" width="4.50" height="26.43" fill="#d8d8d8" stroke="#5e5e5e" stroke-width="0.8"/>
<rect x="172.50" y="449.57" width="3.70" height="7.14" fill="#c6c6c6"/>
<path d="M174.35 442.43V456.71M172.65 442.43h3.4M172.65 456.71h3.4" stroke="#3c3c3c" stroke-width="0.8" fill="none"/>
<rect x="184.00" y="454.00" width="4.50" height="22.00" fill="#d8d8d8" stroke="#5e5e5e" stroke-width="0.8"/>
<rect x="184.40" y="454.00" width="3.70" height="4.92" fill="#c6c6c6"/>
<path d="M186.25 449.08V458.93M184.55 449.08h3.4M184.55 458.93h3.4" stroke="#3c3c3c" stroke-width="0.8" fill="none"/>
<rect x="195.90" y="456.09" width="4.50" height="19.91" fill="#d8d8d8" stroke="#5e5e5e" stroke-width="0.8"/>
<rect x="196.30" y="456.09" width="3.70" height="2.59" fill="#c6c6c6"/>
<path d="M198.15 453.51V458.68M196.45 453.51h3.4M196.45 458.68h3.4" stroke="#3c3c3c" stroke-width="0.8" fill="none"/>
<rect x="207.80" y="457.94" width="4.50" height="18.06" fill="#d8d8d8" stroke="#5e5e5e" stroke-width="0.8"/>
<rect x="208.20" y="457.94" width="3.70" height="2.46" fill="#c6c6c6"/>
<path d="M210.05 455.48V460.40M208.35 455.48h3.4M208.35 460.40h3.4" stroke="#3c3c3c" stroke-width="0.8" fill="none"/>
<rect x="219.70" y="459.67" width="4.50" height="16.33" fill="#d8d8d8" stroke="#5e5e5e" stroke-width="0.8"/>
<rect x="220.10" y="459.67" width="3.70" height="1.60" fill="#c6c6c6"/>
<path d="M221.95 458.06V461.27M220.25 458.06h3.4M220.25 461.27h3.4" stroke="#3c3c3c" stroke-width="0.8" fill="none"/>
<rect x="231.60" y="460.16" width="4.50" height="15.84" fill="#d8d8d8" stroke="#5e5e5e" stroke-width="0.8"/>
<rect x="232.00" y="460.16" width="3.70" height="0.98" fill="#c6c6c6"/>
<path d="M233.85 459.17V461.14M232.15 459.17h3.4M232.15 461.14h3.4" stroke="#3c3c3c" stroke-width="0.8" fill="none"/>
<rect x="243.50" y="461.51" width="4.50" height="14.49" fill="#d8d8d8" stroke="#5e5e5e" stroke-width="0.8"/>
<rect x="243.90" y="461.51" width="3.70" height="0.98" fill="#c6c6c6"/>
<path d="M245.75 460.53V462.50M244.05 460.53h3.4M244.05 462.50h3.4" stroke="#3c3c3c" stroke-width="0.8" fill="none"/>
<rect x="255.40" y="461.88" width="4.50" height="14.12" fill="#d8d8d8" stroke="#5e5e5e" stroke-width="0.8"/>
<rect x="255.80" y="461.88" width="3.70" height="2.59" fill="#c6c6c6"/>
<path d="M257.65 459.30V464.47M255.95 459.30h3.4M255.95 464.47h3.4" stroke="#3c3c3c" stroke-width="0.8" fill="none"/>
<rect x="267.30" y="462.99" width="4.50" height="13.01" fill="#d8d8d8" stroke="#5e5e5e" stroke-width="0.8"/>
<rect x="267.70" y="462.99" width="3.70" height="0.98" fill="#c6c6c6"/>
<path d="M269.55 462.00V463.97M267.85 462.00h3.4M267.85 463.97h3.4" stroke="#3c3c3c" stroke-width="0.8" fill="none"/>
<rect x="279.20" y="464.22" width="4.50" height="11.78" fill="#d8d8d8" stroke="#5e5e5e" stroke-width="0.8"/>
<rect x="279.60" y="464.22" width="3.70" height="0.62" fill="#c6c6c6"/>
<path d="M281.45 463.60V464.84M279.75 463.60h3.4M279.75 464.84h3.4" stroke="#3c3c3c" stroke-width="0.8" fill="none"/>
<rect x="291.10" y="464.22" width="4.50" height="11.78" fill="#d8d8d8" stroke="#5e5e5e" stroke-width="0.8"/>
<rect x="291.50" y="464.22" width="3.70" height="0.49" fill="#c6c6c6"/>
<path d="M293.35 463.73V464.71M291.65 463.73h3.4M291.65 464.71h3.4" stroke="#3c3c3c" stroke-width="0.8" fill="none"/>
<rect x="303.00" y="464.40" width="4.50" height="11.60" fill="#d8d8d8" stroke="#5e5e5e" stroke-width="0.8"/>
<rect x="303.40" y="464.40" width="3.70" height="1.60" fill="#c6c6c6"/>
<path d="M305.25 462.80V466.00M303.55 462.80h3.4M303.55 466.00h3.4" stroke="#3c3c3c" stroke-width="0.8" fill="none"/>
<rect x="314.90" y="465.08" width="4.50" height="10.92" fill="#d8d8d8" stroke="#5e5e5e" stroke-width="0.8"/>
<rect x="315.30" y="465.08" width="3.70" height="0.86" fill="#c6c6c6"/>
<path d="M317.15 464.22V465.94M315.45 464.22h3.4M315.45 465.94h3.4" stroke="#3c3c3c" stroke-width="0.8" fill="none"/>
<rect x="326.80" y="465.57" width="4.50" height="10.43" fill="#d8d8d8" stroke="#5e5e5e" stroke-width="0.8"/>
<rect x="327.20" y="465.57" width="3.70" height="1.85" fill="#c6c6c6"/>
<path d="M329.05 463.73V467.42M327.35 463.73h3.4M327.35 467.42h3.4" stroke="#3c3c3c" stroke-width="0.8" fill="none"/>
<rect x="338.70" y="464.84" width="4.50" height="11.16" fill="#d8d8d8" stroke="#5e5e5e" stroke-width="0.8"/>
<rect x="339.10" y="464.84" width="3.70" height="2.22" fill="#c6c6c6"/>
<path d="M340.95 462.62V467.05M339.25 462.62h3.4M339.25 467.05h3.4" stroke="#3c3c3c" stroke-width="0.8" fill="none"/>
<rect x="350.60" y="465.57" width="4.50" height="10.43" fill="#d8d8d8" stroke="#5e5e5e" stroke-width="0.8"/>
<rect x="351.00" y="465.57" width="3.70" height="0.98" fill="#c6c6c6"/>
<path d="M352.85 464.59V466.56M351.15 464.59h3.4M351.15 466.56h3.4" stroke="#3c3c3c" stroke-width="0.8" fill="none"/>
<rect x="362.50" y="463.73" width="4.50" height="12.27" fill="#d8d8d8" stroke="#5e5e5e" stroke-width="0.8"/>
<rect x="362.90" y="463.73" width="3.70" height="4.06" fill="#c6c6c6"/>
<path d="M364.75 459.67V467.79M363.05 459.67h3.4M363.05 467.79h3.4" stroke="#3c3c3c" stroke-width="0.8" fill="none"/>
<rect x="374.40" y="466.31" width="4.50" height="9.69" fill="#d8d8d8" stroke="#5e5e5e" stroke-width="0.8"/>
<rect x="374.80" y="466.31" width="3.70" height="1.85" fill="#c6c6c6"/>
<path d="M376.65 464.47V468.16M374.95 464.47h3.4M374.95 468.16h3.4" stroke="#3c3c3c" stroke-width="0.8" fill="none"/>
</svg>
</body></html>
